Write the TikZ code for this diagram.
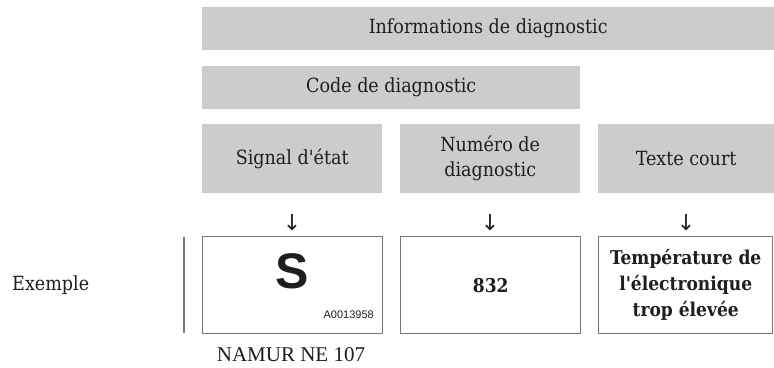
\documentclass[tikz,border=0pt]{standalone}
\usepackage{fontspec}
\setmainfont{DejaVu Serif Condensed}
\newfontfamily\symfont{DejaVu Sans}
\newfontfamily\sansf{Liberation Sans}
\newfontfamily\namurf{Liberation Serif}
\definecolor{barfill}{HTML}{CCCCCC}
\definecolor{boxline}{HTML}{777777}
\definecolor{txt}{HTML}{1E1E1E}
\newcommand{\apos}{\textquotesingle}
\begin{document}
\begin{tikzpicture}[x=1pt,y=-1pt,
  bar/.style={fill=barfill,draw=none,inner sep=0pt,anchor=north west,text=txt,
    font=\fontsize{19.5}{25}\selectfont,align=center},
  valbox/.style={draw=boxline,line width=1.4pt,inner sep=0pt,anchor=north west,text=txt,
    minimum height=97pt,align=center},
  arr/.style={font=\symfont\fontsize{22}{22}\selectfont,text=txt,inner sep=0pt},
  lbl/.style={text=txt,inner sep=0pt,font=\fontsize{19.5}{25}\selectfont}]
\useasboundingbox (0,0) rectangle (774,367);
\node[bar,minimum width=572pt,minimum height=43pt] (info) at (202,7) {Informations de diagnostic};
\node[bar,minimum width=378pt,minimum height=43pt] (code) at (202,66) {Code de diagnostic};
\node[bar,minimum width=180pt,minimum height=69pt] (sig) at (202,124) {Signal d\apos état};
\node[bar,minimum width=180pt,minimum height=69pt] (num) at (400,124) {Numéro de\\diagnostic};
\node[bar,minimum width=176pt,minimum height=69pt] (tc) at (598,124) {Texte court};
\node[arr] (a1) at (292,223) {↓};
\node[arr] (a2) at (490,223) {↓};
\node[arr] (a3) at (686,223) {↓};
\node[valbox,minimum width=180pt] (bs) at (202,236) {};
\node[valbox,minimum width=180pt,font=\bfseries\fontsize{19}{25}\selectfont] (b832) at (400,236) {832};
\node[valbox,minimum width=174pt,font=\bfseries\fontsize{19}{26}\selectfont] (btxt) at (598,236) {Température de\\l\apos électronique\\trop élevée};
\node[font=\sansf\bfseries\fontsize{50}{50}\selectfont,text=txt,inner sep=0pt] (s) at (292,271) {S};
\node[font=\sansf\fontsize{11}{11}\selectfont,text=txt,inner sep=0pt,anchor=east] (aid) at (374,315) {A0013958};
\node[font=\namurf\fontsize{21}{21}\selectfont,text=txt,inner sep=0pt] (namur) at (291,355) {NAMUR NE 107};
\node[lbl,anchor=west] (ex) at (12,285) {Exemple};
\coordinate (vt) at (184,237);
\coordinate (vb) at (184,333);
\draw[boxline,line width=1.6pt] (vt) -- (vb);
\end{tikzpicture}
\end{document}
